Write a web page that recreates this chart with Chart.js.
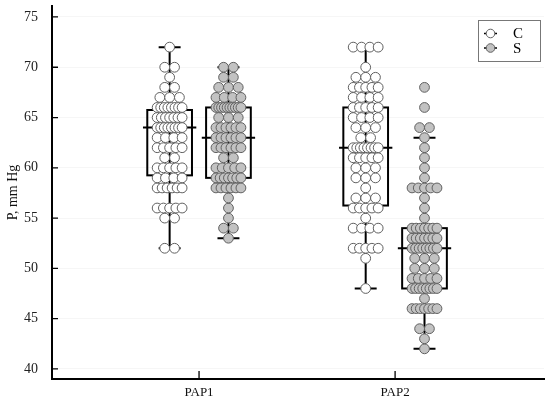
<!DOCTYPE html>
<html>
<head>
<meta charset="utf-8">
<script src="https://cdn.jsdelivr.net/npm/chart.js@4"></script>
<style>
  html, body { margin: 0; padding: 0; background: #fff; }
  #wrap { width: 550px; height: 403px; }
</style>
</head>
<body>
<div id="wrap"><canvas id="myChart"></canvas></div>
<script>
// Categorias y series
const categories = ['PAP1', 'PAP2'];
const seriesNames = ['C', 'S'];
const yTicks = [40, 45, 50, 55, 60, 65, 70, 75];

// Observaciones (mm Hg)
const pap1C = [72, 70, 70, 69, 68, 68, 67, 67, 67,
  66, 66, 66, 66, 66, 66, 66, 66, 65, 65, 65, 65, 65, 65, 65,
  64, 64, 64, 64, 64, 64, 64, 64, 63, 63, 63, 63, 62, 62, 62, 62, 62,
  61, 61, 60, 60, 60, 60, 60, 59, 59, 59, 59, 58, 58, 58, 58, 58, 58,
  56, 56, 56, 56, 56, 55, 55, 52, 52];
const pap1S = [70, 70, 69, 69, 68, 68, 68, 67, 67, 67, 67,
  66, 66, 66, 66, 66, 66, 66, 66, 66, 66, 65, 65, 65,
  64, 64, 64, 64, 64, 64, 63, 63, 63, 63, 63, 63, 62, 62, 62, 62, 62, 62,
  61, 61, 60, 60, 60, 60, 60, 59, 59, 59, 59, 59, 59, 59,
  58, 58, 58, 58, 58, 58, 57, 56, 55, 54, 54, 53];
const pap2C = [72, 72, 72, 72, 70, 69, 69, 69, 68, 68, 68, 68, 68,
  67, 67, 67, 67, 66, 66, 66, 66, 66, 65, 65, 65, 65, 64, 64, 64, 63, 63,
  62, 62, 62, 62, 62, 62, 62, 62, 61, 61, 61, 61, 61, 60, 60, 60, 59, 59, 59,
  58, 57, 57, 57, 56, 56, 56, 56, 56, 55, 54, 54, 54, 54,
  52, 52, 52, 52, 52, 51, 48];
const pap2S = [68, 66, 64, 64, 63, 62, 61, 60, 59, 58, 58, 58, 58, 58, 57, 56, 55,
  54, 54, 54, 54, 54, 54, 54, 53, 53, 53, 53, 53, 53, 53,
  52, 52, 52, 52, 52, 52, 52, 52, 51, 51, 51, 50, 50, 50, 49, 49, 49, 49, 49,
  48, 48, 48, 48, 48, 48, 48, 48, 47, 46, 46, 46, 46, 46, 46, 46, 44, 44, 43, 42];

// Estadisticos de las cajas: PAP1-C, PAP1-S, PAP2-C, PAP2-S
const boxMin = [52, 53, 48, 42];
const boxQ1 = [59.25, 59, 56.25, 48];
const boxMedian = [64, 63, 62, 52];
const boxQ3 = [65.75, 66, 66, 54];
const boxMax = [72, 70, 72, 63];

const groups = [
  { values: pap1C, cat: 0, serie: 0 },
  { values: pap1S, cat: 0, serie: 1 },
  { values: pap2C, cat: 1, serie: 0 },
  { values: pap2S, cat: 1, serie: 1 }
];

const serieOffset = [-0.15, 0.15];   // desplazamiento de cada serie
const pxPorUnidad = 196.4;           // aprox. pixeles por unidad en x
const pointFill = ['#ffffff', '#c2c2c2'];
const pointBorder = '#606060';

// Distribuir los puntos repetidos en horizontal (tipo enjambre)
function swarm(values, centro) {
  const cuenta = {};
  values.forEach(v => { cuenta[v] = (cuenta[v] || 0) + 1; });
  const puntos = [];
  Object.keys(cuenta).forEach(k => {
    const n = cuenta[k];
    const paso = n > 1 ? Math.min(9.8, 25 / (n - 1)) : 0;
    for (let i = 0; i < n; i++) {
      const dx = (i - (n - 1) / 2) * paso / pxPorUnidad;
      puntos.push({ x: centro + dx, y: Number(k) });
    }
  });
  return puntos;
}

const datasets = groups.map(g => ({
  label: seriesNames[g.serie],
  data: swarm(g.values, g.cat + 1 + serieOffset[g.serie]),
  backgroundColor: pointFill[g.serie],
  borderColor: pointBorder,
  borderWidth: 1,
  pointRadius: 4.9,
  pointHoverRadius: 4.9
}));

// Cajas y bigotes (dibujadas bajo los puntos)
const boxPlugin = {
  id: 'boxes',
  beforeDatasetsDraw(chart) {
    const { ctx, scales: { x, y } } = chart;
    ctx.save();
    ctx.strokeStyle = '#000';
    ctx.lineWidth = 2;
    groups.forEach((g, i) => {
      const c = g.cat + 1 + serieOffset[g.serie];
      const xc = x.getPixelForValue(c);
      const xl = x.getPixelForValue(c - 0.114);
      const xr = x.getPixelForValue(c + 0.114);
      const ml = x.getPixelForValue(c - 0.136);
      const mr = x.getPixelForValue(c + 0.136);
      const cl = x.getPixelForValue(c - 0.056);
      const cr = x.getPixelForValue(c + 0.056);
      const yq1 = y.getPixelForValue(boxQ1[i]);
      const yq3 = y.getPixelForValue(boxQ3[i]);
      const ymed = y.getPixelForValue(boxMedian[i]);
      const ymin = y.getPixelForValue(boxMin[i]);
      const ymax = y.getPixelForValue(boxMax[i]);
      ctx.beginPath();
      ctx.moveTo(xc, ymax); ctx.lineTo(xc, ymin);
      ctx.moveTo(cl, ymax); ctx.lineTo(cr, ymax);
      ctx.moveTo(cl, ymin); ctx.lineTo(cr, ymin);
      ctx.moveTo(ml, ymed); ctx.lineTo(mr, ymed);
      ctx.stroke();
      ctx.strokeRect(xl, yq3, xr - xl, yq1 - yq3);
    });
    ctx.restore();
  },
  afterDraw(chart) {
    const { ctx, scales: { x, y }, chartArea } = chart;
    ctx.save();
    // marcas de los ejes hacia dentro
    ctx.strokeStyle = '#000';
    ctx.lineWidth = 1.3;
    ctx.beginPath();
    yTicks.forEach(t => {
      const py = y.getPixelForValue(t);
      ctx.moveTo(chartArea.left, py); ctx.lineTo(chartArea.left + 6, py);
    });
    categories.forEach((c, i) => {
      const px = x.getPixelForValue(i + 1);
      ctx.moveTo(px, chartArea.bottom); ctx.lineTo(px, chartArea.bottom - 8);
    });
    ctx.stroke();

    // leyenda
    ctx.strokeStyle = '#777';
    ctx.lineWidth = 1;
    ctx.strokeRect(478.5, 20.5, 62, 41);
    ctx.font = '15px "Liberation Serif"';
    ctx.textBaseline = 'middle';
    ctx.textAlign = 'left';
    seriesNames.forEach((nombre, i) => {
      const ly = 33.5 + i * 14.5;
      ctx.strokeStyle = '#000';
      ctx.lineWidth = 1.5;
      ctx.beginPath();
      ctx.moveTo(484, ly); ctx.lineTo(497, ly);
      ctx.stroke();
      ctx.beginPath();
      ctx.arc(490.5, ly, 4.3, 0, Math.PI * 2);
      ctx.fillStyle = pointFill[i];
      ctx.fill();
      ctx.strokeStyle = pointBorder;
      ctx.lineWidth = 1;
      ctx.stroke();
      ctx.fillStyle = '#000';
      ctx.fillText(nombre, 513, ly + 1);
    });
    ctx.restore();
  }
};

new Chart(document.getElementById('myChart'), {
  type: 'scatter',
  data: { datasets: datasets },
  options: {
    responsive: true,
    maintainAspectRatio: false,
    animation: false,
    layout: { padding: { top: 5, right: 5, left: 0, bottom: 0 } },
    plugins: {
      legend: { display: false },
      tooltip: { enabled: false }
    },
    scales: {
      x: {
        type: 'linear',
        min: 0.25,
        max: 2.76,
        afterBuildTicks: s => { s.ticks = categories.map((c, i) => ({ value: i + 1 })); },
        afterFit: s => { s.height = 24; s.paddingLeft = 0; s.paddingRight = 0; },
        ticks: {
          callback: v => categories[v - 1],
          color: '#111',
          font: { family: 'Liberation Serif', size: 13 },
          padding: 6,
          maxRotation: 0
        },
        grid: { display: false, drawTicks: false },
        border: { color: '#000', width: 2 }
      },
      y: {
        min: 39,
        max: 76.1,
        afterBuildTicks: s => { s.ticks = yTicks.map(v => ({ value: v })); },
        afterFit: s => { s.width = 52; s.paddingTop = 0; s.paddingBottom = 0; },
        ticks: {
          color: '#222',
          font: { family: 'Liberation Serif', size: 14 },
          padding: 14
        },
        grid: { color: 'rgba(0,0,0,0.035)', drawTicks: false },
        border: { color: '#000', width: 2 },
        title: {
          display: true,
          text: 'P, mm Hg',
          color: '#111',
          font: { family: 'Liberation Serif', size: 14 },
          padding: { top: 5, bottom: 0 }
        }
      }
    }
  },
  plugins: [boxPlugin]
});
</script>
</body>
</html>
